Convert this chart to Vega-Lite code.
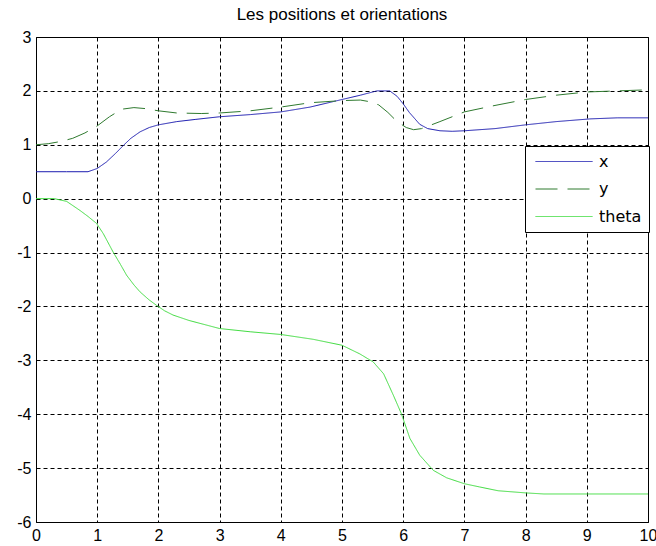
{
  "$schema": "https://vega.github.io/schema/vega-lite/v6.json",
  "width": 612,
  "height": 485,
  "autosize": "none",
  "padding": {"left": 36, "top": 37, "right": 8, "bottom": 24},
  "background": "white",
  "title": {"text": "Les positions et orientations", "fontSize": 17, "font": "Liberation Sans", "fontWeight": "normal", "color": "black", "offset": 5},
  "config": {
    "view": {"stroke": "black", "strokeWidth": 1},
    "axis": {
      "domain": false,
      "ticks": false,
      "grid": true,
      "gridColor": "black",
      "gridDash": [4, 3],
      "gridOpacity": 1,
      "gridWidth": 1,
      "labelFont": "Liberation Sans",
      "labelFontSize": 16,
      "labelColor": "black",
      "labelFlush": false,
      "labelOverlap": false,
      "labelBound": false,
      "labelExpr": "toString(datum.value)",
      "title": null
    },
    "legend": {
      "orient": "none",
      "legendX": 489,
      "legendY": 109,
      "strokeColor": "black",
      "fillColor": "white",
      "cornerRadius": 0,
      "padding": 7,
      "symbolType": "M-3.5625,0L3.5625,0",
      "symbolSize": 256,
      "symbolStrokeWidth": 1,
      "symbolOffset": 23.5,
      "labelFont": "DejaVu Sans",
      "labelFontSize": 16,
      "labelColor": "black",
      "labelOffset": 26.5,
      "rowPadding": 10.5,
      "title": null
    }
  },
  "data": {"values": [
    {"t": 0, "v": 0.5, "s": "x"},
    {"t": 0.5, "v": 0.5, "s": "x"},
    {"t": 0.85, "v": 0.5, "s": "x"},
    {"t": 1.0, "v": 0.56, "s": "x"},
    {"t": 1.15, "v": 0.68, "s": "x"},
    {"t": 1.3, "v": 0.84, "s": "x"},
    {"t": 1.43, "v": 0.99, "s": "x"},
    {"t": 1.55, "v": 1.12, "s": "x"},
    {"t": 1.7, "v": 1.24, "s": "x"},
    {"t": 1.85, "v": 1.32, "s": "x"},
    {"t": 2.0, "v": 1.37, "s": "x"},
    {"t": 2.3, "v": 1.43, "s": "x"},
    {"t": 2.6, "v": 1.47, "s": "x"},
    {"t": 3.0, "v": 1.52, "s": "x"},
    {"t": 3.5, "v": 1.56, "s": "x"},
    {"t": 4.0, "v": 1.61, "s": "x"},
    {"t": 4.48, "v": 1.7, "s": "x"},
    {"t": 5.0, "v": 1.84, "s": "x"},
    {"t": 5.3, "v": 1.92, "s": "x"},
    {"t": 5.57, "v": 2.0, "s": "x"},
    {"t": 5.78, "v": 2.0, "s": "x"},
    {"t": 5.9, "v": 1.9, "s": "x"},
    {"t": 6.0, "v": 1.76, "s": "x"},
    {"t": 6.1, "v": 1.6, "s": "x"},
    {"t": 6.27, "v": 1.38, "s": "x"},
    {"t": 6.4, "v": 1.3, "s": "x"},
    {"t": 6.6, "v": 1.26, "s": "x"},
    {"t": 6.8, "v": 1.25, "s": "x"},
    {"t": 7.0, "v": 1.26, "s": "x"},
    {"t": 7.5, "v": 1.3, "s": "x"},
    {"t": 8.0, "v": 1.37, "s": "x"},
    {"t": 8.5, "v": 1.43, "s": "x"},
    {"t": 9.05, "v": 1.48, "s": "x"},
    {"t": 9.5, "v": 1.5, "s": "x"},
    {"t": 10, "v": 1.5, "s": "x"},
    {"t": 0, "v": 1.0, "s": "y"},
    {"t": 0.2, "v": 1.02, "s": "y"},
    {"t": 0.4, "v": 1.06, "s": "y"},
    {"t": 0.6, "v": 1.12, "s": "y"},
    {"t": 0.8, "v": 1.22, "s": "y"},
    {"t": 1.0, "v": 1.35, "s": "y"},
    {"t": 1.2, "v": 1.52, "s": "y"},
    {"t": 1.4, "v": 1.66, "s": "y"},
    {"t": 1.6, "v": 1.69, "s": "y"},
    {"t": 1.8, "v": 1.67, "s": "y"},
    {"t": 2.0, "v": 1.63, "s": "y"},
    {"t": 2.3, "v": 1.59, "s": "y"},
    {"t": 2.7, "v": 1.58, "s": "y"},
    {"t": 3.0, "v": 1.59, "s": "y"},
    {"t": 3.5, "v": 1.63, "s": "y"},
    {"t": 4.0, "v": 1.7, "s": "y"},
    {"t": 4.48, "v": 1.78, "s": "y"},
    {"t": 5.0, "v": 1.82, "s": "y"},
    {"t": 5.3, "v": 1.83, "s": "y"},
    {"t": 5.45, "v": 1.8, "s": "y"},
    {"t": 5.6, "v": 1.74, "s": "y"},
    {"t": 5.75, "v": 1.6, "s": "y"},
    {"t": 5.9, "v": 1.43, "s": "y"},
    {"t": 6.05, "v": 1.32, "s": "y"},
    {"t": 6.17, "v": 1.28, "s": "y"},
    {"t": 6.3, "v": 1.3, "s": "y"},
    {"t": 6.6, "v": 1.43, "s": "y"},
    {"t": 7.0, "v": 1.61, "s": "y"},
    {"t": 7.5, "v": 1.73, "s": "y"},
    {"t": 8.0, "v": 1.84, "s": "y"},
    {"t": 8.5, "v": 1.92, "s": "y"},
    {"t": 9.0, "v": 1.98, "s": "y"},
    {"t": 9.5, "v": 2.0, "s": "y"},
    {"t": 10, "v": 2.02, "s": "y"},
    {"t": 0, "v": 0, "s": "theta"},
    {"t": 0.3, "v": 0, "s": "theta"},
    {"t": 0.5, "v": -0.05, "s": "theta"},
    {"t": 0.72, "v": -0.22, "s": "theta"},
    {"t": 0.85, "v": -0.33, "s": "theta"},
    {"t": 0.99, "v": -0.46, "s": "theta"},
    {"t": 1.1, "v": -0.65, "s": "theta"},
    {"t": 1.26, "v": -0.99, "s": "theta"},
    {"t": 1.38, "v": -1.22, "s": "theta"},
    {"t": 1.48, "v": -1.42, "s": "theta"},
    {"t": 1.6, "v": -1.6, "s": "theta"},
    {"t": 1.7, "v": -1.73, "s": "theta"},
    {"t": 1.85, "v": -1.88, "s": "theta"},
    {"t": 1.97, "v": -1.98, "s": "theta"},
    {"t": 2.1, "v": -2.08, "s": "theta"},
    {"t": 2.24, "v": -2.16, "s": "theta"},
    {"t": 2.5, "v": -2.26, "s": "theta"},
    {"t": 3.0, "v": -2.41, "s": "theta"},
    {"t": 3.5, "v": -2.47, "s": "theta"},
    {"t": 4.0, "v": -2.52, "s": "theta"},
    {"t": 4.53, "v": -2.61, "s": "theta"},
    {"t": 5.0, "v": -2.72, "s": "theta"},
    {"t": 5.29, "v": -2.88, "s": "theta"},
    {"t": 5.51, "v": -3.03, "s": "theta"},
    {"t": 5.68, "v": -3.25, "s": "theta"},
    {"t": 5.84, "v": -3.65, "s": "theta"},
    {"t": 5.97, "v": -3.99, "s": "theta"},
    {"t": 6.11, "v": -4.45, "s": "theta"},
    {"t": 6.27, "v": -4.76, "s": "theta"},
    {"t": 6.49, "v": -5.04, "s": "theta"},
    {"t": 6.71, "v": -5.18, "s": "theta"},
    {"t": 7.0, "v": -5.29, "s": "theta"},
    {"t": 7.25, "v": -5.35, "s": "theta"},
    {"t": 7.55, "v": -5.42, "s": "theta"},
    {"t": 8.0, "v": -5.46, "s": "theta"},
    {"t": 8.3, "v": -5.48, "s": "theta"},
    {"t": 9.0, "v": -5.48, "s": "theta"},
    {"t": 10, "v": -5.48, "s": "theta"}
  ]},
  "mark": {"type": "line", "strokeWidth": 1, "clip": true},
  "encoding": {
    "x": {"field": "t", "type": "quantitative", "scale": {"domain": [0, 10], "nice": false, "zero": false}, "axis": {"values": [0,1,2,3,4,5,6,7,8,9,10], "labelPadding": 5}},
    "y": {"field": "v", "type": "quantitative", "scale": {"domain": [-6, 3], "nice": false, "zero": false}, "axis": {"values": [-6,-5,-4,-3,-2,-1,0,1,2,3], "labelPadding": 5}},
    "color": {"field": "s", "type": "nominal", "title": null, "scale": {"domain": ["x", "y", "theta"], "range": ["#1c1cb0", "#2f7a2f", "#3fdc3f"]}},
    "strokeDash": {"field": "s", "type": "nominal", "title": null, "scale": {"domain": ["x", "y", "theta"], "range": [[1, 0], [22, 10], [1, 0]]}},
    "order": {"field": "t", "type": "quantitative"}
  }
}
